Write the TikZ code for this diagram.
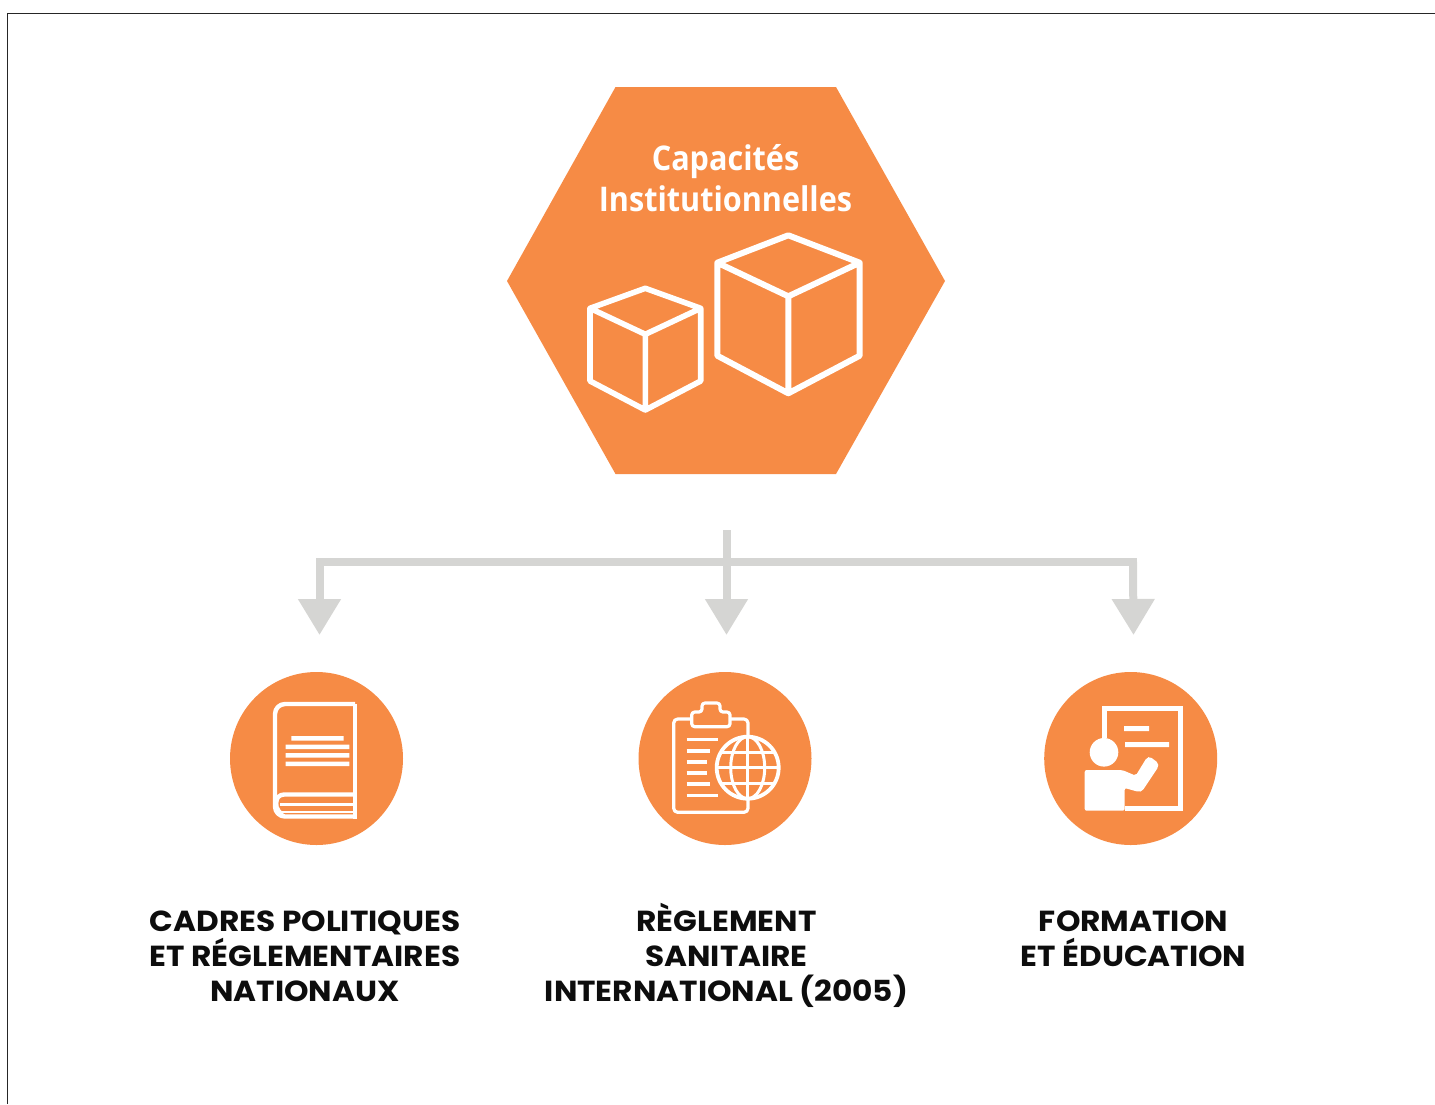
\documentclass[tikz,border=0pt]{standalone}
\usepackage{fontspec}
\usetikzlibrary{arrows.meta}
\newfontfamily\capfont[FakeStretch=1.075]{Poppins}
\newfontfamily\hexfont[FakeStretch=0.9]{Open Sans}
\definecolor{orangeF}{HTML}{F68B45}
\definecolor{grayL}{HTML}{D5D5D3}
\tikzset{
  px/.style={x=0.5pt,y=-0.5pt},
  frameline/.style={draw=black!85,line width=0.5pt},
  hexbox/.style={fill=orangeF,draw=none},
  disc/.style={circle,fill=orangeF,draw=none,minimum size=86.5pt,inner sep=0pt},
  conn/.style={draw=grayL,line width=4pt},
  connarrow/.style={conn,-{Triangle[length=18pt,width=20.5pt]}},
  caption/.style={font=\capfont\bfseries\fontsize{14.5}{17.5}\selectfont,align=center,text=black!90!gray,inner sep=0pt},
  hextext/.style={font=\hexfont\bfseries\fontsize{17}{20.5}\selectfont,align=center,text=white,inner sep=0pt},
  cube/.style={draw=white,line join=round,line cap=round},
  icon/.style={draw=white,line width=1.6pt,line join=round},
  iconfill/.style={fill=white,draw=none},
}
\begin{document}
\begin{tikzpicture}[px]
\useasboundingbox (0,0) rectangle (1435,1104);
\draw[frameline] (7,1104) -- (7,13) -- (1435,13);

% hexagon
\path[hexbox] (615.5,87) -- (836,87) -- (945,281) -- (836,474) -- (615.5,474) -- (507,281) -- cycle;
\node[hextext] (title) at (725.5,178) {Capacités\\Institutionnelles};

% cubes
\draw[cube,line width=3pt] (788.3,235.3) -- (859.7,262.7) -- (859.7,355.7) -- (788.3,393.3) -- (717.3,355.7) -- (717.3,262.7) -- cycle
  (717.3,262.7) -- (788.3,296.3) -- (859.7,262.7) (788.3,296.3) -- (788.3,393.3);
\draw[cube,line width=2.8pt] (645.3,288.3) -- (700.7,308.3) -- (700.7,381) -- (645.3,410) -- (590,381) -- (590,308.3) -- cycle
  (590,308.3) -- (645.3,334.3) -- (700.7,308.3) (645.3,334.3) -- (645.3,410);

% connectors
\coordinate (stem) at (726.5,530);
\coordinate (junction) at (726.5,562);
\coordinate (jl) at (319.5,562);
\coordinate (jr) at (1133,562);
\coordinate (tipl) at (319.5,635);
\coordinate (tipm) at (726.5,635);
\coordinate (tipr) at (1133.5,635);
\draw[conn,line cap=rect] (jl) -- (jr);
\draw[connarrow] (stem) -- (tipm);
\draw[connarrow] (jl) -- (tipl);
\draw[connarrow] (jr) -- (tipr);
\node[disc] (d1) at (316.5,758.5) {};
\node[disc] (d2) at (725,758.5) {};
\node[disc] (d3) at (1130.7,758.5) {};

% book
\draw[icon,line width=2.2pt] (355,704) -- (285,704) [rounded corners=5pt] -- (275,704) -- (275,816.5) -- (355,816.5);
\draw[icon,line width=2.2pt] (355,704) -- (355,818.7);
\draw[icon,line width=2.2pt,rounded corners=4pt] (355,794.5) -- (276,794.5) -- (276,805);
\draw[icon,line width=1.3pt] (356,804.5) -- (280,804.5);
\draw[icon,line width=1.3pt] (356,812) -- (281,812);
\draw[icon,line width=1.3pt] (278,798) to[bend right=40] (283,814);
\path[iconfill] (291.3,736) rectangle (343.7,740.5)
  (285.7,744.7) rectangle (349.3,749.2)
  (285.7,753) rectangle (349.3,757.5)
  (285.7,761.7) rectangle (349.3,766.2);

% clipboard + globe
\draw[icon,rounded corners=2pt] (748,735) -- (748,719) -- (730,719) (691.7,719) -- (673.7,719) -- (673.7,812.3) -- (748,812.3) -- (748,800);
\draw[icon,rounded corners=1.5pt] (711,726.7) -- (691.7,726.7) -- (691.7,712) -- (702,712) -- (702,703) -- (720,703) -- (720,712) -- (730,712) -- (730,726.7) -- cycle;
\foreach \yy/\xx in {739.7/718.3,751/710,762/707.3,773/707.3,784/710,795.3/718.3}
  \draw[icon] (686.7,\yy) -- (\xx,\yy);
\draw[icon,line width=1.9pt] (747.7,767.7) circle[radius=15.5pt];
\draw[icon,line width=1.5pt] (747.7,736.7) -- (747.7,798.7);
\draw[icon,line width=1.5pt] (716.7,767.7) -- (778.7,767.7);
\draw[icon,line width=1.5pt] (721,752) -- (774.4,752);
\draw[icon,line width=1.5pt] (721,783.4) -- (774.4,783.4);
\draw[icon,line width=1.5pt] (747.7,767.7) ellipse[x radius=8.5pt,y radius=15.5pt];

% teacher
\draw[icon,line width=2.25pt,line join=miter] (1104.3,738) -- (1104.3,708.3) -- (1180.3,708.3) -- (1180.3,808.3) -- (1125,808.3);
\path[iconfill] (1124,726) rectangle (1149,731) (1125,742) rectangle (1169,747);
\path[iconfill] (1104,752.3) circle[radius=7.15pt];
\path[iconfill,rounded corners=1pt] (1084.7,810.7) -- (1084.7,770) -- (1122.3,770) -- (1135.7,775.7) -- (1146.7,757.7) -- (1150,756.7) -- (1158.3,763) -- (1158.3,767) -- (1142.3,791) -- (1139,792) -- (1124.7,788) -- (1124.7,810.7) -- cycle;

% captions
\node[caption] (c1) at (305,956) {CADRES POLITIQUES\\ET RÉGLEMENTAIRES\\NATIONAUX};
\node[caption] (c2) at (726.5,955) {RÈGLEMENT\\SANITAIRE\\INTERNATIONAL (2005)};
\node[caption,anchor=north] (c3) at (1133.5,910) {FORMATION\\ET ÉDUCATION};
\end{tikzpicture}
\end{document}
